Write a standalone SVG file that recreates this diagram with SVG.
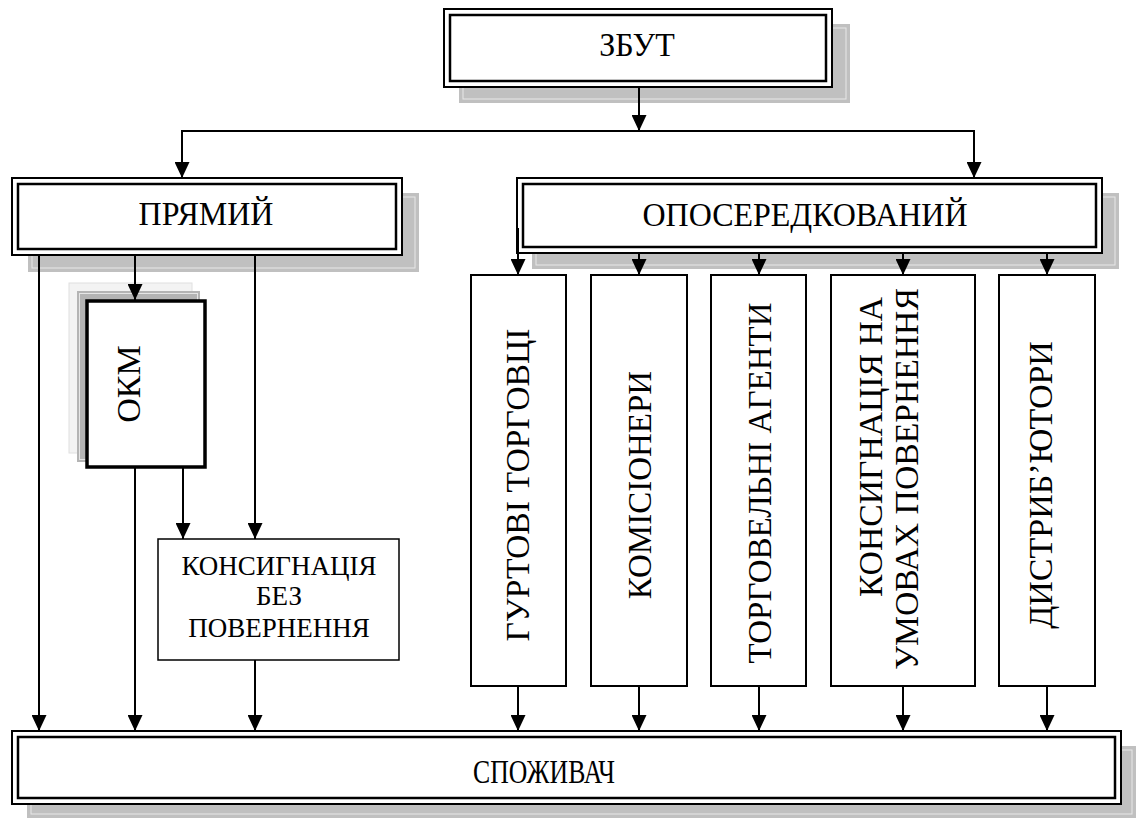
<svg xmlns="http://www.w3.org/2000/svg" width="1136" height="818" viewBox="0 0 1136 818">
  <style>
    .shadow { fill: #c0c0c0; }
    .shadow-hl { fill: none; stroke: #e8e8e8; stroke-width: 1; }
    .outer { fill: #fff; stroke: #000; stroke-width: 2; }
    .inner { fill: none; stroke: #000; stroke-width: 2.5; }
    .box { fill: #fff; stroke: #000; stroke-width: 2; }
    .lbl { font-family: "Liberation Serif", "Times New Roman", serif; font-size: 32px; fill: #000; text-anchor: middle; }
    .vert { font-size: 33px; }
    .small { font-size: 27px; }
    .conn line { stroke: #000; stroke-width: 2; fill: none; }
  </style>
  <defs>
    <marker id="arrow" markerUnits="userSpaceOnUse" markerWidth="16" markerHeight="15" refX="16" refY="7.5" orient="auto" viewBox="0 0 16 15">
      <path d="M0,0 L16,7.5 L0,15 Z" fill="#000"/>
    </marker>
  </defs>

  <rect x="0" y="0" width="1136" height="818" fill="#fff"/>

  <!-- top node -->
  <g id="zbut">
    <rect class="shadow" x="459" y="24" width="391" height="79"/>
    <rect class="shadow-hl" x="463" y="28" width="383" height="71"/>
    <rect class="outer" x="444" y="9" width="388" height="78"/>
    <rect class="inner" x="450" y="15" width="376" height="66"/>
    <text class="lbl" transform="translate(637,56) scale(1,1.08)">ЗБУТ</text>
  </g>

  <g id="pryamyi">
    <rect class="shadow" x="28" y="193" width="391" height="79"/>
    <rect class="shadow-hl" x="32" y="197" width="383" height="71"/>
    <rect class="outer" x="12" y="178" width="390" height="77"/>
    <rect class="inner" x="18" y="184" width="378" height="65"/>
    <text class="lbl" transform="translate(206,225) scale(1,1.08)">ПРЯМИЙ</text>
  </g>

  <g id="oposeredkovanyi">
    <rect class="shadow" x="532" y="193" width="587" height="76"/>
    <rect class="shadow-hl" x="536" y="197" width="579" height="68"/>
    <rect class="outer" x="517" y="178" width="585" height="75"/>
    <rect class="inner" x="523" y="184" width="573" height="63"/>
    <text class="lbl" transform="translate(805,226) scale(1,1.08)">ОПОСЕРЕДКОВАНИЙ</text>
  </g>

  <g id="okm">
    <rect x="69" y="283" width="123" height="170" fill="#f3f3f3" stroke="#e0e0e0" stroke-width="1"/>
    <rect x="77" y="291" width="123" height="171" fill="#b4b4b4"/>
    <rect x="79.5" y="293.5" width="118" height="166" fill="none" stroke="#e6e6e6" stroke-width="1"/>
    <rect x="87" y="301" width="118" height="166" fill="#fff" stroke="#000" stroke-width="3.5"/>
    <text class="lbl vert" transform="translate(128,384) rotate(-90) scale(1.03,1)" dy="0.35em">ОКМ</text>
  </g>

  <g id="konsygnatsiia-bez-povernennia">
    <rect x="158" y="539" width="241" height="121" fill="#fff" stroke="#000" stroke-width="1.5"/>
    <text class="lbl small" x="279" y="575">КОНСИГНАЦІЯ</text>
    <text class="lbl small" x="279" y="605">БЕЗ</text>
    <text class="lbl small" x="279" y="637">ПОВЕРНЕННЯ</text>
  </g>

  <g id="hurtovi-torhovtsi">
    <rect class="box" x="471" y="275" width="95" height="411"/>
    <text class="lbl vert" transform="translate(517,485) rotate(-90) scale(1.02,1)" dy="0.35em">ГУРТОВІ ТОРГОВЦІ</text>
  </g>

  <g id="komisionery">
    <rect class="box" x="591" y="275" width="96" height="411"/>
    <text class="lbl vert" transform="translate(639,485) rotate(-90)" dy="0.35em">КОМІСІОНЕРИ</text>
  </g>

  <g id="torhovelni-ahenty">
    <rect class="box" x="711" y="275" width="95" height="411"/>
    <text class="lbl vert" transform="translate(759,483) rotate(-90)" dy="0.35em">ТОРГОВЕЛЬНІ АГЕНТИ</text>
  </g>

  <g id="konsygnatsiia-na-umovakh">
    <rect class="box" x="831" y="275" width="144" height="411"/>
    <text class="lbl vert" transform="translate(870,447) rotate(-90) scale(1.02,1)" dy="0.35em">КОНСИГНАЦІЯ НА</text>
    <text class="lbl vert" transform="translate(906,479) rotate(-90) scale(1.02,1)" dy="0.35em">УМОВАХ ПОВЕРНЕННЯ</text>
  </g>

  <g id="dystrybiutory">
    <rect class="box" x="999" y="275" width="96" height="411"/>
    <text class="lbl vert" transform="translate(1040,485) rotate(-90) scale(1.03,1)" dy="0.35em">ДИСТРИБ’ЮТОРИ</text>
  </g>

  <g id="spozhyvach">
    <rect class="shadow" x="27" y="746" width="1109" height="72"/>
    <rect class="shadow-hl" x="31" y="750" width="1101" height="64"/>
    <rect class="outer" x="12" y="731" width="1109" height="73"/>
    <rect class="inner" x="18" y="737" width="1097" height="61"/>
    <text class="lbl" x="544" y="783" style="font-size:34px" textLength="142" lengthAdjust="spacingAndGlyphs">СПОЖИВАЧ</text>
  </g>

  <!-- connectors -->
  <g class="conn">
    <line x1="639" y1="87" x2="639" y2="131" marker-end="url(#arrow)"/>
    <line x1="182" y1="131" x2="974" y2="131"/>
    <line x1="182" y1="130" x2="182" y2="178" marker-end="url(#arrow)"/>
    <line x1="974" y1="130" x2="974" y2="178" marker-end="url(#arrow)"/>

    <line x1="39" y1="255" x2="39" y2="731" marker-end="url(#arrow)"/>
    <line x1="135" y1="255" x2="135" y2="300" marker-end="url(#arrow)"/>
    <line x1="255" y1="255" x2="255" y2="539" marker-end="url(#arrow)"/>
    <line x1="135" y1="468" x2="135" y2="731" marker-end="url(#arrow)"/>
    <line x1="183" y1="468" x2="183" y2="539" marker-end="url(#arrow)"/>
    <line x1="255" y1="660" x2="255" y2="731" marker-end="url(#arrow)"/>

    <line x1="518" y1="228" x2="518" y2="275" marker-end="url(#arrow)"/>
    <line x1="639" y1="253" x2="639" y2="275" marker-end="url(#arrow)"/>
    <line x1="759" y1="253" x2="759" y2="275" marker-end="url(#arrow)"/>
    <line x1="903" y1="253" x2="903" y2="275" marker-end="url(#arrow)"/>
    <line x1="1047" y1="253" x2="1047" y2="275" marker-end="url(#arrow)"/>

    <line x1="518" y1="686" x2="518" y2="731" marker-end="url(#arrow)"/>
    <line x1="639" y1="686" x2="639" y2="731" marker-end="url(#arrow)"/>
    <line x1="759" y1="686" x2="759" y2="731" marker-end="url(#arrow)"/>
    <line x1="903" y1="686" x2="903" y2="731" marker-end="url(#arrow)"/>
    <line x1="1047" y1="686" x2="1047" y2="731" marker-end="url(#arrow)"/>
  </g>
</svg>
